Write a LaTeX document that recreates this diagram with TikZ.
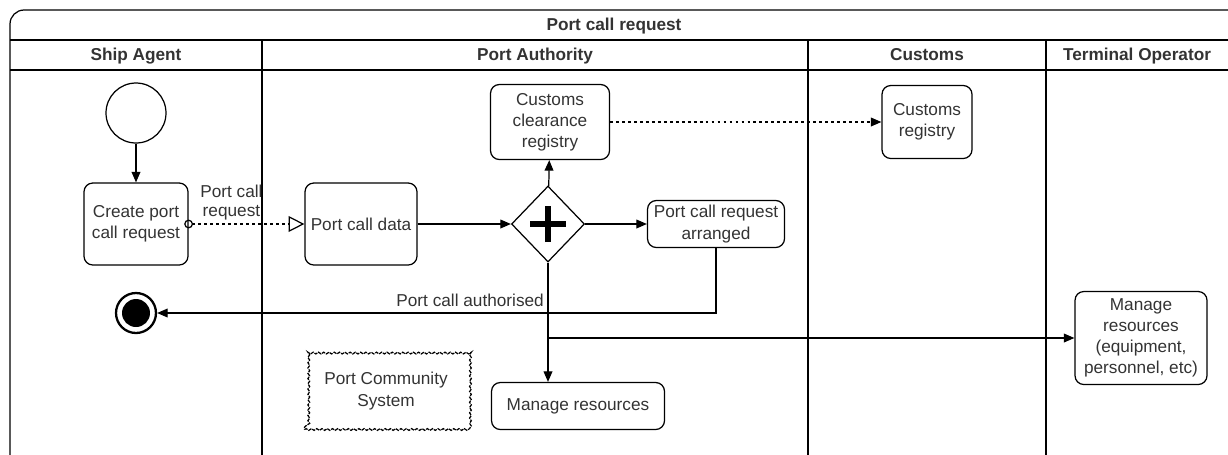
\documentclass[tikz,border=0pt]{standalone}
\usepackage{fontspec}
\setmainfont{Liberation Sans}
\usetikzlibrary{arrows.meta,shapes.geometric,decorations.pathmorphing}

\tikzset{
	task/.style={draw, rounded corners=5pt, align=center, inner sep=1pt, line width=0.7pt},
	lane/.style={font=\fontsize{9.8}{12}\selectfont\bfseries, text height=1.6ex, text depth=0.4ex},
	flow/.style={->, line width=0.7pt},
	msg/.style={line width=0.8pt, dash pattern=on 1.6pt off 1.8pt},
}

\begin{document}
\begin{tikzpicture}[x=0.02cm, y=-0.02cm, >={Triangle[length=6pt,width=5pt]}, font=\fontsize{9.8}{12}\selectfont, text=black!80, line width=0.7pt]
			\useasboundingbox (0,0) rectangle (1228,454);
			\draw[rounded corners=8pt] (10,470) -- (10,10) -- (1240,10);
			\draw (10,40) -- (1240,40);
			\draw (10,70) -- (1240,70);
			\draw (262,40) -- (262,470);
			\draw (808,40) -- (808,470);
			\draw (1046,40) -- (1046,470);
			\node[lane] (pool) at (614,25) {Port call request};
			\node[lane] (agent) at (136,55) {Ship Agent};
			\node[lane] (authority) at (535,55) {Port Authority};
			\node[lane] (customs) at (927,55) {Customs};
			\node[lane] (terminal) at (1137,55) {Terminal Operator};
			\node[draw, circle, minimum size=1.2cm] (start) at (136,113) {};
			\node[circle, draw, line width=1.3pt, minimum size=0.8cm, inner sep=0pt, path picture={\fill (path picture bounding box.center) circle (0.28cm);}] (endev) at (136,313) {};
			\node[task, minimum width=2.08cm, minimum height=1.64cm] (create) at (136,224) {Create port\\call request};
			\node[task, minimum width=2.24cm, minimum height=1.64cm] (data) at (361,224) {Port call data};
			\node[draw, diamond, minimum width=1.46cm, minimum height=1.52cm, inner sep=0pt, path picture={
				\draw[line width=3.4pt, black] ([xshift=-0.36cm]path picture bounding box.center) -- ([xshift=0.36cm]path picture bounding box.center);
				\draw[line width=3.4pt, black] ([yshift=-0.36cm]path picture bounding box.center) -- ([yshift=0.36cm]path picture bounding box.center);}] (gw) at (548,224) {};
			\node[task, minimum width=2.38cm, minimum height=1.5cm] (ccr) at (550,122) {Customs\\clearance\\registry};
			\node[task, minimum width=2.74cm, minimum height=0.94cm] (arranged) at (716,224) {Port call request\\arranged};
			\node[task, minimum width=1.8cm, minimum height=1.46cm] (registry) at (927,122) {Customs\\registry};
			\node[task, minimum width=2.64cm, minimum height=1.86cm] (mrbig) at (1141,338) {Manage\\resources\\(equipment,\\personnel, etc)};
			\node[task, minimum width=3.46cm, minimum height=0.94cm] (mr) at (578,406) {Manage resources};
			\node[draw, dashed, dash pattern=on 2pt off 0.6pt, decorate, decoration={snake, segment length=3pt, amplitude=0.5pt}, align=center, minimum width=3.26cm, minimum height=1.54cm] (pcs) at (386,391) {Port Community\\System};
			\draw[flow] (start) -- (create);
			\draw[msg, {Circle[open,length=5pt,line width=0.7pt,sep=-2.5pt]}-{Triangle[open,length=9pt,width=9pt,line width=0.7pt]}] (create) -- (data) node[pos=0.37, above, align=center, inner sep=2pt, font=\fontsize{9.8}{10.5}\selectfont] {Port call\\request};
			\draw[flow] (data) -- (gw);
			\draw[flow] (gw) -- (ccr);
			\draw[flow] (gw) -- (arranged);
			\draw[msg, ->, line width=0.7pt] (ccr) -- (registry);
			\draw[flow] (arranged.south) |- (endev) node[pos=0.72, above] {Port call authorised};
			\draw[flow] (gw.south) -- (gw.south |- mr.north);
			\draw[flow] (gw.south |- mrbig.west) -- (mrbig.west);
		\end{tikzpicture}
\end{document}
